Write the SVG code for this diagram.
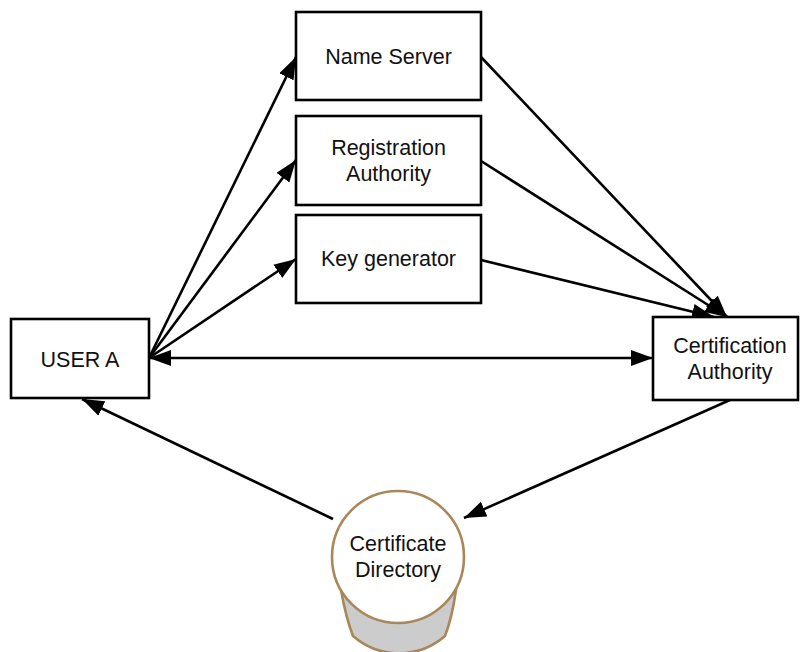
<svg xmlns="http://www.w3.org/2000/svg" width="800" height="652" viewBox="0 0 800 652">
  <style>
    .box { fill: #ffffff; stroke: #000000; stroke-width: 2.6; }
    .lbl { font-family: "Liberation Sans", Arial, sans-serif; font-size: 21.5px; fill: #111111; text-anchor: middle; }
    .edge { stroke: #000000; stroke-width: 2.6; fill: none; marker-end: url(#arrow); }
    .db { stroke: #a8875a; stroke-width: 2.6; }
  </style>
  <defs>
    <marker id="arrow" markerUnits="userSpaceOnUse" markerWidth="24" markerHeight="18" refX="22" refY="8" orient="auto-start-reverse">
      <path d="M0,0 L22,8 L0,16 Z" fill="#000000"/>
    </marker>
  </defs>

  <g id="connectors">
    <line class="edge" x1="149" y1="358" x2="296" y2="57"/>
    <line class="edge" x1="149" y1="358" x2="296" y2="160"/>
    <line class="edge" x1="149" y1="358" x2="296" y2="259"/>
    <line class="edge" x1="149" y1="358" x2="653" y2="358" style="marker-start: url(#arrow)"/>
    <line class="edge" x1="481" y1="57" x2="727" y2="317"/>
    <line class="edge" x1="481" y1="161" x2="727" y2="317"/>
    <line class="edge" x1="481" y1="260" x2="714" y2="317"/>
    <line class="edge" x1="730" y1="400" x2="464" y2="518"/>
    <line class="edge" x1="333" y1="519" x2="82" y2="399"/>
  </g>

  <g id="name-server">
    <rect class="box" x="296" y="12" width="185" height="88"/>
    <text class="lbl" x="388.5" y="64">Name Server</text>
  </g>

  <g id="registration-authority">
    <rect class="box" x="296" y="116" width="185" height="89"/>
    <text class="lbl" x="388.5" y="155">Registration</text>
    <text class="lbl" x="388.5" y="181">Authority</text>
  </g>

  <g id="key-generator">
    <rect class="box" x="296" y="215" width="185" height="88"/>
    <text class="lbl" x="388.5" y="266">Key generator</text>
  </g>

  <g id="user-a">
    <rect class="box" x="11" y="319" width="138" height="79"/>
    <text class="lbl" x="80" y="367">USER A</text>
  </g>

  <g id="certification-authority">
    <rect class="box" x="653" y="317" width="145" height="83"/>
    <text class="lbl" x="730" y="353">Certification</text>
    <text class="lbl" x="730" y="379">Authority</text>
  </g>

  <g id="certificate-directory">
    <path class="db" d="M341,590 Q346,618 353,636 A70,70 0 0 0 445,636 Q452,618 456,590 Z" fill="#cccccc"/>
    <circle class="db" cx="398" cy="557" r="66" fill="#ffffff"/>
    <text class="lbl" x="398" y="551">Certificate</text>
    <text class="lbl" x="398" y="577">Directory</text>
  </g>
</svg>
